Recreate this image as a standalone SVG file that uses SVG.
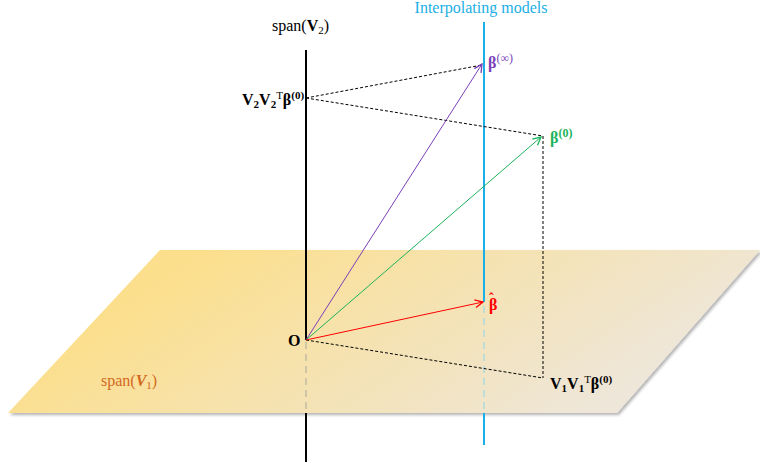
<svg xmlns="http://www.w3.org/2000/svg" width="760" height="467" viewBox="0 0 760 467">
<style>
.t{font-family:"Liberation Serif","Times New Roman",serif;font-size:16px}
.b{font-weight:bold}
.dash{fill:none;stroke:#000;stroke-width:1;stroke-dasharray:3 2}
</style>
<defs>
<linearGradient id="pg" gradientUnits="userSpaceOnUse" x1="230" y1="230" x2="420" y2="520">
<stop offset="0" stop-color="#FCDF8C"/>
<stop offset="1" stop-color="#EEE6D8"/>
</linearGradient>
<filter id="sh" x="-5%" y="-5%" width="110%" height="115%">
<feGaussianBlur in="SourceAlpha" stdDeviation="1.5"/>
<feOffset dx="2" dy="2" result="o"/>
<feComponentTransfer><feFuncA type="linear" slope="0.3"/></feComponentTransfer>
<feMerge><feMergeNode/><feMergeNode in="SourceGraphic"/></feMerge>
</filter>
<marker id="aP" viewBox="0 0 10 10" refX="9" refY="5" markerWidth="10" markerHeight="10" markerUnits="userSpaceOnUse" orient="auto"><path d="M1,1 L9,5 L1,9" fill="none" stroke="#7B3FB8" stroke-width="1.3"/></marker>
<marker id="aG" viewBox="0 0 10 10" refX="9" refY="5" markerWidth="10" markerHeight="10" markerUnits="userSpaceOnUse" orient="auto"><path d="M1,1 L9,5 L1,9" fill="none" stroke="#1DB35B" stroke-width="1.3"/></marker>
<marker id="aR" viewBox="0 0 10 10" refX="9" refY="5" markerWidth="10" markerHeight="10" markerUnits="userSpaceOnUse" orient="auto"><path d="M1,1 L9,5 L1,9" fill="none" stroke="#FF0000" stroke-width="1.3"/></marker>
</defs>

<g id="plane">
<polygon points="160,250 760,250 617,413 8,413" fill="url(#pg)" filter="url(#sh)"/>
<text class="t" x="101" y="386" fill="#D2691E">span(<tspan class="b" font-style="italic">V</tspan><tspan font-size="11" dy="3">1</tspan><tspan dy="-3">)</tspan></text>
</g>

<g id="axis-v2">
<line x1="306" y1="50" x2="306" y2="340" stroke="#000" stroke-width="2"/>
<line x1="306" y1="342" x2="306" y2="412" stroke="#CFC6A8" stroke-width="2" stroke-dasharray="7 5"/>
<line x1="306" y1="413" x2="306" y2="462" stroke="#000" stroke-width="2"/>
<text class="t" x="272" y="31" fill="#000">span(<tspan class="b">V</tspan><tspan font-size="11" dy="3">2</tspan><tspan dy="-3">)</tspan></text>
</g>

<g id="interp-line">
<line x1="484" y1="22" x2="484" y2="302" stroke="#1AAFE6" stroke-width="2"/>
<line x1="484" y1="306" x2="484" y2="412" stroke="#BFDCD6" stroke-width="2" stroke-dasharray="7 5"/>
<line x1="484" y1="413" x2="484" y2="445" stroke="#1AAFE6" stroke-width="2"/>
<text class="t" x="481" y="13" fill="#1AAFE6" text-anchor="middle">Interpolating models</text>
</g>

<g id="connectors">
<line class="dash" x1="306" y1="98" x2="482" y2="65"/>
<line class="dash" x1="306" y1="98" x2="543" y2="136"/>
<line class="dash" x1="543" y1="136" x2="543" y2="378"/>
<line class="dash" x1="306" y1="340" x2="543" y2="378"/>
<line x1="306" y1="340" x2="482" y2="64" stroke="#7B3FB8" stroke-width="1" marker-end="url(#aP)"/>
<line x1="306" y1="340" x2="541" y2="137" stroke="#1DB35B" stroke-width="1" marker-end="url(#aG)"/>
<line x1="306" y1="340" x2="483" y2="302" stroke="#FF0000" stroke-width="1" marker-end="url(#aR)"/>
</g>

<g id="origin">
<text class="t b" x="288" y="346" fill="#000">O</text>
</g>

<g id="v2v2-point">
<text class="t b" x="242" y="105" fill="#000">V<tspan font-size="11" dy="3">2</tspan><tspan dy="-3">V</tspan><tspan font-size="11" dy="3">2</tspan><tspan font-size="11" font-weight="normal" dy="-9">T</tspan><tspan dy="6">β</tspan><tspan font-size="11" dy="-6">(0)</tspan></text>
</g>

<g id="beta-inf">
<text class="t b" x="488" y="68" fill="#7B3FB8">β<tspan font-size="12" font-weight="normal" dy="-6">(∞)</tspan></text>
</g>

<g id="beta-0">
<text class="t b" x="550" y="143" fill="#1DB35B">β<tspan font-size="12" dy="-6">(0)</tspan></text>
</g>

<g id="beta-hat">
<text class="t b" x="489" y="310" fill="#FF0000">β<tspan font-size="14" dx="-8.5" dy="-7">ˆ</tspan></text>
</g>

<g id="v1v1-point">
<text class="t b" x="550" y="389" fill="#000">V<tspan font-size="11" dy="3">1</tspan><tspan dy="-3">V</tspan><tspan font-size="11" dy="3">1</tspan><tspan font-size="11" font-weight="normal" dy="-9">T</tspan><tspan dy="6">β</tspan><tspan font-size="11" dy="-6">(0)</tspan></text>
</g>
</svg>
